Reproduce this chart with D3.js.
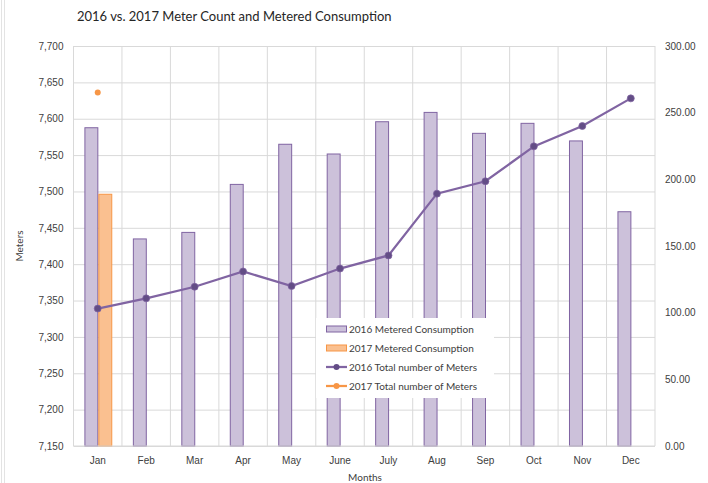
<!DOCTYPE html>
<html>
<head>
<meta charset="utf-8">
<script src="https://cdn.jsdelivr.net/npm/d3@7"></script>
<style>
  html, body { margin: 0; padding: 0; background: #fff; }
  svg { display: block; font-family: Lato, "Open Sans", "Liberation Sans", sans-serif; }
</style>
</head>
<body>
<div id="chart"></div>
<script>
const months = ['Jan', 'Feb', 'Mar', 'Apr', 'May', 'June', 'July', 'Aug', 'Sep', 'Oct', 'Nov', 'Dec'];
const consumption2016 = [238.7, 155.3, 160.2, 196.2, 226.3, 219.0, 243.2, 250.2, 234.5, 242.0, 228.8, 175.7];
const consumption2017 = [188.8];
const meters2016 = [7339, 7353, 7369, 7390, 7370, 7394, 7412, 7497, 7514, 7562, 7590, 7628];
const meters2017 = [7636];
const leftTicks = [7150, 7200, 7250, 7300, 7350, 7400, 7450, 7500, 7550, 7600, 7650, 7700];
const rightTicks = [0, 50, 100, 150, 200, 250, 300];

const W = 708, H = 483;
const m = { top: 46, right: 53, bottom: 37, left: 73.5 };

const purple = '#8064a2', purpleFill = '#ccc1da', purpleDark = '#634d86';
const orange = '#f79646', orangeFill = '#fac090';
const grid = '#d9d9d9', text = '#404040';

const svg = d3.select('#chart').append('svg').attr('width', W).attr('height', H);

// faint chart frame on the left edge
svg.append('line').attr('x1', 1.5).attr('x2', 1.5).attr('y1', 0).attr('y2', H).attr('stroke', '#e3e3e3');
svg.append('line').attr('x1', 4.5).attr('x2', 4.5).attr('y1', 0).attr('y2', H).attr('stroke', '#e3e3e3');

const x = d3.scaleBand().domain(months).range([m.left, W - m.right]).padding(0);
const sub = d3.scaleBand().domain(['2016', '2017'])
  .range([x.bandwidth() * 0.225, x.bandwidth() * 0.8]).padding(0);
const yL = d3.scaleLinear().domain([7150, 7700]).range([H - m.bottom, m.top]);
const yR = d3.scaleLinear().domain([0, 300]).range([H - m.bottom, m.top]);

// gridlines
svg.append('g')
  .attr('transform', `translate(${m.left},0)`)
  .call(d3.axisLeft(yL).tickValues(leftTicks).tickSize(-(W - m.left - m.right)).tickFormat(''))
  .call(g => g.select('.domain').remove())
  .call(g => g.selectAll('line').attr('stroke', grid));

svg.append('g')
  .selectAll('line')
  .data(months.concat(['end']))
  .join('line')
  .attr('x1', d => d === 'end' ? W - m.right : x(d))
  .attr('x2', d => d === 'end' ? W - m.right : x(d))
  .attr('y1', m.top)
  .attr('y2', H - m.bottom)
  .attr('stroke', grid);

// bars (secondary axis)
svg.append('g')
  .selectAll('rect')
  .data(consumption2016.map((v, i) => ({ m: months[i], v })))
  .join('rect')
  .attr('x', d => x(d.m) + sub('2016') + 0.5)
  .attr('width', sub.bandwidth() - 1)
  .attr('y', d => yR(d.v))
  .attr('height', d => yR(0) - yR(d.v))
  .attr('fill', purpleFill)
  .attr('stroke', purple)
  .attr('stroke-width', 1);

svg.append('g')
  .selectAll('rect')
  .data(consumption2017.map((v, i) => ({ m: months[i], v })))
  .join('rect')
  .attr('x', d => x(d.m) + sub('2017') + 0.5)
  .attr('width', sub.bandwidth() - 1)
  .attr('y', d => yR(d.v))
  .attr('height', d => yR(0) - yR(d.v))
  .attr('fill', orangeFill)
  .attr('stroke', orange)
  .attr('stroke-width', 1);

// bottom baseline
svg.append('line')
  .attr('x1', m.left).attr('x2', W - m.right)
  .attr('y1', H - m.bottom).attr('y2', H - m.bottom)
  .attr('stroke', grid);

// meter lines (primary axis)
const cx = d => x(d) + x.bandwidth() / 2;
const line = d3.line().x(d => cx(d.m)).y(d => yL(d.v));
const pts2016 = meters2016.map((v, i) => ({ m: months[i], v }));
const pts2017 = meters2017.map((v, i) => ({ m: months[i], v }));

svg.append('path').datum(pts2016).attr('d', line)
  .attr('fill', 'none').attr('stroke', purple).attr('stroke-width', 2.25);
svg.append('g').selectAll('circle').data(pts2016).join('circle')
  .attr('cx', d => cx(d.m)).attr('cy', d => yL(d.v)).attr('r', 3.5)
  .attr('fill', purpleDark).attr('stroke', purple).attr('stroke-width', 0.75);
svg.append('g').selectAll('circle').data(pts2017).join('circle')
  .attr('cx', d => cx(d.m)).attr('cy', d => yL(d.v)).attr('r', 3)
  .attr('fill', orange);

// axes labels
const fmtL = d3.format(',');
const fmtR = d3.format('.2f');

svg.append('g')
  .attr('transform', `translate(${m.left},0)`)
  .call(d3.axisLeft(yL).tickValues(leftTicks).tickSize(0).tickPadding(10).tickFormat(fmtL))
  .call(g => g.select('.domain').remove())
  .call(g => g.selectAll('text').attr('fill', text).attr('font-size', 10).attr('font-family', null));

svg.append('g')
  .attr('transform', `translate(${W - m.right},0)`)
  .call(d3.axisRight(yR).tickValues(rightTicks).tickSize(0).tickPadding(10).tickFormat(fmtR))
  .call(g => g.select('.domain').remove())
  .call(g => g.selectAll('text').attr('fill', text).attr('font-size', 10).attr('font-family', null));

svg.append('g')
  .attr('transform', `translate(0,${H - m.bottom})`)
  .call(d3.axisBottom(x).tickSize(0).tickPadding(11))
  .call(g => g.select('.domain').remove())
  .call(g => g.selectAll('text').attr('fill', text).attr('font-size', 10).attr('font-family', null));

// titles
svg.append('text')
  .attr('x', 77).attr('y', 21)
  .attr('font-size', 13).attr('fill', '#262626')
  .text('2016 vs. 2017 Meter Count and Metered Consumption');

svg.append('text')
  .attr('transform', `translate(23,${(m.top + H - m.bottom) / 2}) rotate(-90)`)
  .attr('text-anchor', 'middle').attr('font-size', 10).attr('fill', text)
  .text('Meters');

svg.append('text')
  .attr('x', 365).attr('y', 481)
  .attr('text-anchor', 'middle').attr('font-size', 10).attr('fill', text)
  .text('Months');

// legend
const legendItems = [
  { label: '2016 Metered Consumption', kind: 'bar', stroke: purple, fill: purpleFill },
  { label: '2017 Metered Consumption', kind: 'bar', stroke: orange, fill: orangeFill },
  { label: '2016 Total number of Meters', kind: 'line', stroke: purple, fill: purpleDark },
  { label: '2017 Total number of Meters', kind: 'line', stroke: orange, fill: orange },
];
const legend = svg.append('g').attr('transform', 'translate(316,318)');
legend.append('rect').attr('width', 178).attr('height', 80).attr('fill', '#fff');
const item = legend.selectAll('g.item').data(legendItems).join('g')
  .attr('class', 'item')
  .attr('transform', (d, i) => `translate(10,${11 + i * 19})`);
item.filter(d => d.kind === 'bar').append('rect')
  .attr('x', 0.5).attr('y', -3).attr('width', 20).attr('height', 6)
  .attr('fill', d => d.fill).attr('stroke', d => d.stroke);
item.filter(d => d.kind === 'line').append('line')
  .attr('x1', 0).attr('x2', 21).attr('y1', 0).attr('y2', 0)
  .attr('stroke', d => d.stroke).attr('stroke-width', 2.25);
item.filter(d => d.kind === 'line').append('circle')
  .attr('cx', 10.5).attr('cy', 0).attr('r', 3)
  .attr('fill', d => d.fill);
item.append('text')
  .attr('x', 23).attr('y', 3.5)
  .attr('font-size', 10).attr('fill', text)
  .text(d => d.label);
</script>
</body>
</html>
